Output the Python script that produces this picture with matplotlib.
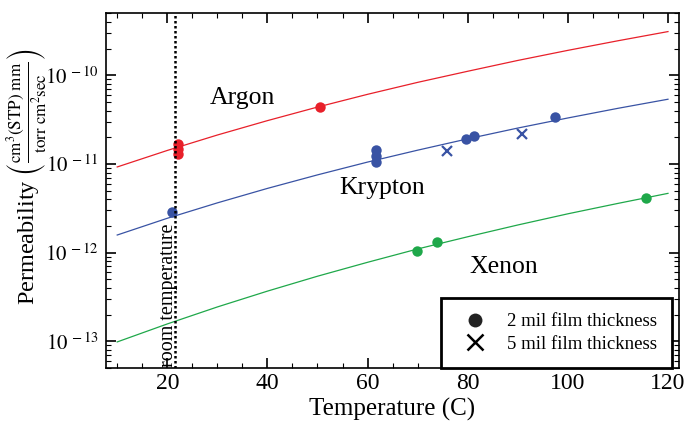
import matplotlib
matplotlib.use('Agg')
from matplotlib import pyplot as plt
from matplotlib.ticker import LogLocator, MultipleLocator, NullFormatter, FuncFormatter
import numpy as np

plt.rcParams['font.family'] = ['Liberation Serif', 'DejaVu Serif']
plt.rcParams['mathtext.fontset'] = 'stix'

# fitted curves, read every 10 C
fit_T = [10, 20, 30, 40, 50, 60, 70, 80, 90, 100, 110, 120]
argon_fit = [9.25e-12, 1.42e-11, 2.12e-11, 3.08e-11, 4.38e-11, 6.10e-11,
             8.32e-11, 1.11e-10, 1.47e-10, 1.91e-10, 2.45e-10, 3.11e-10]
krypton_fit = [1.58e-12, 2.44e-12, 3.64e-12, 5.30e-12, 7.53e-12, 1.05e-11,
               1.43e-11, 1.92e-11, 2.54e-11, 3.30e-11, 4.24e-11, 5.37e-11]
xenon_fit = [9.84e-14, 1.57e-13, 2.44e-13, 3.68e-13, 5.42e-13, 7.78e-13,
             1.10e-12, 1.51e-12, 2.05e-12, 2.74e-12, 3.59e-12, 4.66e-12]

# measured points, 2 mil film
argon_T = [22.1, 22.1, 22.1, 50.5]
argon_P = [1.67e-11, 1.47e-11, 1.31e-11, 4.37e-11]
krypton_T = [21.0, 61.6, 61.6, 61.6, 79.7, 81.3, 97.4]
krypton_P = [2.88e-12, 1.43e-11, 1.22e-11, 1.06e-11, 1.91e-11, 2.06e-11, 3.37e-11]
xenon_T = [69.9, 73.9, 115.6]
xenon_P = [1.03e-12, 1.33e-12, 4.14e-12]

# measured points, 5 mil film
krypton5_T = [75.9, 90.9]
krypton5_P = [1.40e-11, 2.17e-11]

room_T = 21.6
y_ticks = [1e-13, 1e-12, 1e-11, 1e-10]

red = '#e8202a'
blue = '#3953a4'
green = '#1fa84a'

fig = plt.figure(figsize=(6.86, 4.29), dpi=100)
ax = fig.add_axes([105.7 / 686, 1 - 368 / 429, (679 - 105.7) / 686, (368 - 13.3) / 429])

ax.plot(fit_T, argon_fit, color=red, lw=0.9)
ax.plot(fit_T, krypton_fit, color=blue, lw=0.9)
ax.plot(fit_T, xenon_fit, color=green, lw=0.9)

ax.plot(argon_T, argon_P, 'o', color=red, ms=7.5, mec='none')
ax.plot(krypton_T, krypton_P, 'o', color=blue, ms=7.5, mec='none')
ax.plot(xenon_T, xenon_P, 'o', color=green, ms=7.5, mec='none')
ax.plot(krypton5_T, krypton5_P, 'x', color=blue, ms=7, mew=1.6)

ax.axvline(room_T, color='black', lw=1.8, ls=(0, (1, 1)))
ax.text(room_T - 1.4, 5.1e-14, 'room temperature', rotation=90, ha='center', va='bottom',
        fontsize=14.5, zorder=5)

ax.text(35.1, 5.6e-11, 'Argon', ha='center', va='center', fontsize=18.5)
ax.text(62.9, 5.4e-12, 'Krypton', ha='center', va='center', fontsize=18.5)
ax.text(87.3, 6.8e-13, 'Xenon', ha='center', va='center', fontsize=18.5)

ax.set_yscale('log')
ax.set_xlim(7.7, 122.2)
ax.set_ylim(5e-14, 5e-10)

ax.xaxis.set_major_locator(MultipleLocator(20))
ax.xaxis.set_minor_locator(MultipleLocator(5))
ax.set_yticks(y_ticks)
ax.yaxis.set_minor_locator(LogLocator(base=10, subs=range(2, 10), numticks=10))
ax.yaxis.set_minor_formatter(NullFormatter())
ax.yaxis.set_major_formatter(FuncFormatter(lambda v, p: r'$10^{\,%d}$' % round(np.log10(v))))

ax.tick_params(which='both', direction='in', top=True, right=True)
ax.tick_params(axis='x', labelsize=17)
ax.tick_params(axis='y', labelsize=15, pad=5)
ax.tick_params(which='major', length=7, width=1.2)
ax.tick_params(which='minor', length=3.5, width=0.8)
for s in ax.spines.values():
    s.set_linewidth(1.2)

ax.set_xlabel('Temperature (C)', fontsize=18, labelpad=3)
ax.set_ylabel(r'Permeability $\left(\frac{\mathrm{cm^3 (STP)\ mm}}{\mathrm{torr\ cm^2 sec}}\right)$',
              fontsize=17.5)
ax.yaxis.set_label_coords(-0.097, 0.54)

h1, = ax.plot([], [], 'o', color='#222222', ms=10, mec='none')
h2, = ax.plot([], [], 'x', color='black', ms=11, mew=1.8)
leg = ax.legend([h1, h2], ['2 mil film thickness', '5 mil film thickness'],
                loc='lower right', fontsize=13.5, fancybox=False, framealpha=1,
                edgecolor='black', borderaxespad=0.0, bbox_to_anchor=(0.988, 0.0),
                handletextpad=0.7, borderpad=0.8, labelspacing=0.3, handlelength=2.0)
leg.get_frame().set_linewidth(2)

plt.savefig('out.png', dpi=100)
